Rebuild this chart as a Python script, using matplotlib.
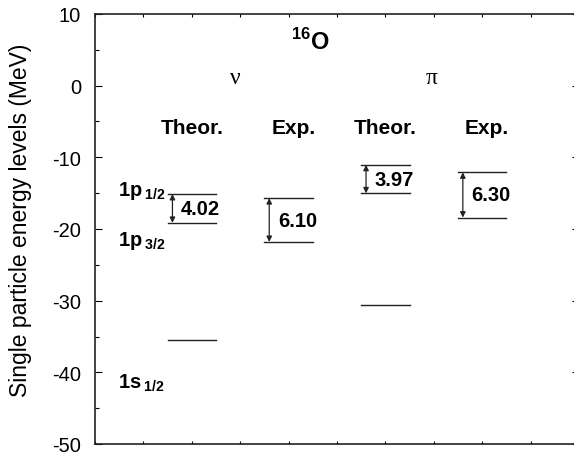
import matplotlib
matplotlib.use("Agg")
import matplotlib.pyplot as plt
from matplotlib.ticker import MultipleLocator

plt.rcParams['font.family'] = ['Liberation Sans', 'DejaVu Sans']
plt.rcParams['axes.unicode_minus'] = False
plt.rcParams['mathtext.fontset'] = 'custom'
plt.rcParams['mathtext.rm'] = 'Liberation Sans'
plt.rcParams['mathtext.bf'] = 'Liberation Sans:bold'

# Data (MeV)
neutron_theor = [-15.12, -19.14, -35.44]
neutron_exp = [-15.70, -21.80]
proton_theor = [-11.05, -15.02, -30.56]
proton_exp = [-12.10, -18.40]
gap_labels = ["4.02", "6.10", "3.97", "6.30"]
column_titles = ["Theor.", "Exp.", "Theor.", "Exp."]
level_names = [r"$\mathbf{1p}\,_{\mathbf{1/2}}$", r"$\mathbf{1p}\,_{\mathbf{3/2}}$", r"$\mathbf{1s}\,_{\mathbf{1/2}}$"]

columns = [neutron_theor, neutron_exp, proton_theor, proton_exp]
col_x = [1.5, 3.5, 5.5, 7.5]

W, H = 574, 456
fig = plt.figure(figsize=(W / 100, H / 100), dpi=100)
ax = fig.add_axes([95 / W, 11 / H, 484 / W, 430 / H])
ax.set_xlim(0, 10)
ax.set_ylim(-50, 10)

for x0, levels in zip(col_x, columns):
    for lv in levels:
        ax.plot([x0, x0 + 1.0], [lv, lv], color='#222222', lw=1.0)

for x0, levels, lab in zip(col_x, columns, gap_labels):
    ax.annotate('', xy=(x0 + 0.1, levels[1]), xytext=(x0 + 0.1, levels[0]),
                arrowprops=dict(arrowstyle='<|-|>', color='#222222', lw=0.9,
                                mutation_scale=8, shrinkA=0, shrinkB=0))
    ax.text(x0 + 0.28, (levels[0] + levels[1]) / 2, lab, fontsize=14.5,
            fontweight='bold', va='center', ha='left')

title_x = [2.0, 4.1, 6.0, 8.1]
for tx, t in zip(title_x, column_titles):
    ax.text(tx, -5.8, t, fontsize=15, fontweight='bold', ha='center', va='center')

ax.text(2.9, 1.2, 'ν', fontsize=17, ha='center', va='center',
        family=['Liberation Serif', 'DejaVu Serif'])
ax.text(6.95, 1.2, 'π', fontsize=17, ha='center', va='center',
        family=['Liberation Serif', 'DejaVu Serif'])
ax.text(4.45, 6.2, r'$^{\mathbf{16}}\mathbf{O}$', fontsize=17, ha='center', va='center')

level_y = [-14.6, -21.6, -41.4]
for ly, name in zip(level_y, level_names):
    ax.text(0.47, ly, name, fontsize=14.5, ha='left', va='center')

ax.set_ylabel('Single particle energy levels (MeV)', fontsize=16.5)
ax.yaxis.set_label_coords(-0.13, 0.523)
ax.yaxis.set_major_locator(MultipleLocator(10))
ax.yaxis.set_minor_locator(MultipleLocator(5))
ax.xaxis.set_major_locator(MultipleLocator(1))
ax.tick_params(axis='both', which='both', direction='in', top=True, right=True,
               labelbottom=False, width=0.8)
ax.tick_params(axis='y', which='major', length=5, labelsize=14.5, pad=10)
ax.tick_params(axis='y', which='minor', length=3)
ax.tick_params(axis='x', which='major', length=2)
for sp in ax.spines.values():
    sp.set_linewidth(1.2)
    sp.set_color('#222222')

fig.savefig('out.png', dpi=100)
